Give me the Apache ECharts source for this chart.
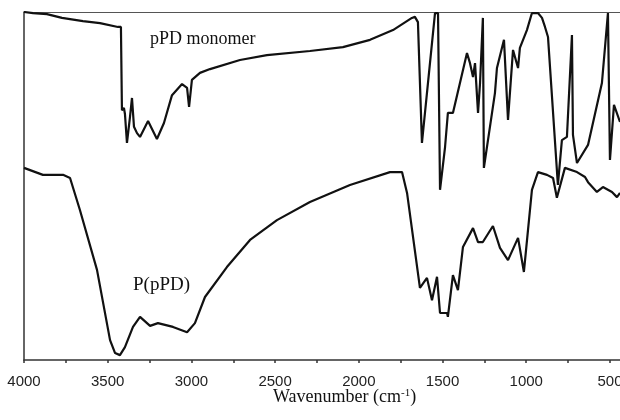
<!DOCTYPE html>
<html>
<head>
<meta charset="utf-8">
<script src="https://cdn.jsdelivr.net/npm/echarts@6/dist/echarts.min.js"></script>
<style>
html,body{margin:0;padding:0;background:#fff;overflow:hidden;}
#chart{width:620px;height:420px;}
</style>
</head>
<body>
<div id="chart"></div>
<script>
// Wavenumber (cm-1) and relative transmittance readings
const monomerWn = [4000,3946,3863,3773,3648,3546,3439,3421,3415,3403,3397,3385,3367,3355,3343,3325,3307,3259,3206,3164,3116,3056,3026,3014,2997,2949,2889,2710,2549,2292,2095,1933,1796,1683,1665,1647,1623,1545,1527,1515,1485,1468,1438,1354,1336,1318,1306,1288,1276,1259,1253,1187,1175,1133,1109,1079,1049,1038,996,966,930,906,888,870,811,787,757,727,721,697,631,548,512,500,476,440];
const monomerT  = [100.0,99.7,99.4,98.3,97.4,96.8,95.7,95.7,71.8,72.4,70.7,62.4,69.8,75.3,67.0,65.2,64.1,68.7,63.5,68.1,76.1,79.3,78.2,72.7,80.5,82.5,83.6,86.2,87.6,88.8,89.9,92.0,94.8,98.3,98.6,97.1,62.4,99.7,99.7,48.9,61.2,71.0,71.0,88.2,85.3,81.3,85.3,71.0,79.6,98.3,55.2,76.7,83.9,92.0,69.0,89.1,83.9,89.7,94.8,99.7,99.7,98.3,95.7,92.8,50.3,63.2,64.1,93.4,64.7,56.6,61.8,79.6,99.7,57.5,73.3,68.4];

const polymerWn = [4000,3887,3767,3725,3666,3564,3486,3456,3427,3397,3349,3307,3247,3200,3110,3026,2979,2919,2788,2650,2489,2292,2053,1814,1742,1712,1635,1593,1563,1533,1515,1473,1468,1438,1408,1378,1318,1288,1259,1199,1157,1109,1049,1014,966,930,876,840,817,769,697,649,631,578,542,488,458,440];
const polymerT  = [55.2,53.2,53.2,52.3,43.1,25.9,5.7,2.0,1.4,3.7,9.5,12.4,9.8,10.6,9.5,8.0,10.6,18.1,26.7,34.5,40.2,45.4,50.3,54.0,54.0,48.0,20.7,23.6,17.2,23.9,13.5,13.5,12.4,24.4,20.1,32.5,37.9,33.9,33.9,38.5,32.2,28.7,35.1,25.3,48.9,54.0,53.2,52.3,46.6,55.2,54.0,52.6,51.1,48.3,49.7,48.3,46.8,48.0];

const tickValues  = [500,750,1000,1250,1500,1750,2000,2250,2500,2750,3000,3250,3500,3750,4000];
const labelValues = [500,1000,1500,2000,2500,3000,3500,4000];

const monomerData = monomerWn.map((w, i) => [w, monomerT[i]]);
const polymerData = polymerWn.map((w, i) => [w, polymerT[i]]);

const chart = echarts.init(document.getElementById('chart'), null, {renderer: 'canvas'});
const lineStyle = {color: '#111', width: 2.2};
chart.setOption({
  animation: false,
  backgroundColor: '#fff',
  grid: {left: 24, right: 0, top: 12, bottom: 60, containLabel: false, outerBoundsMode: 'none'},
  xAxis: [{
    type: 'value', inverse: true, min: 440, max: 4000, position: 'bottom',
    axisLine: {show: true, onZero: false, lineStyle: {color: '#333', width: 1.5}},
    axisTick: {show: true, customValues: tickValues, length: 3, lineStyle: {color: '#333', width: 1.5}},
    axisLabel: {customValues: labelValues, margin: 14, color: '#222', fontFamily: 'Liberation Sans', fontSize: 15,
      formatter: (v) => String(v)},
    splitLine: {show: false}
  }, {
    type: 'value', inverse: true, min: 440, max: 4000, position: 'top',
    axisLine: {show: true, onZero: false, lineStyle: {color: '#555', width: 1}},
    axisTick: {show: false}, axisLabel: {show: false}, splitLine: {show: false}
  }],
  yAxis: {
    type: 'value', min: 0, max: 100,
    axisLine: {show: true, onZero: false, lineStyle: {color: '#333', width: 1.5}},
    axisTick: {show: false}, axisLabel: {show: false}, splitLine: {show: false}
  },
  series: [
    {name: 'pPD monomer', type: 'line', data: monomerData, showSymbol: false, symbol: 'none', lineStyle: lineStyle, xAxisIndex: 0},
    {name: 'P(pPD)', type: 'line', data: polymerData, showSymbol: false, symbol: 'none', lineStyle: lineStyle, xAxisIndex: 0}
  ],
  graphic: [
    {type: 'text', left: 150, top: 30, style: {text: 'pPD monomer', fill: '#111', font: '18px "Liberation Serif"'}},
    {type: 'text', left: 133, top: 276, style: {text: 'P(pPD)', fill: '#111', font: '19px "Liberation Serif"'}},
    {type: 'text', left: 273, top: 388, style: {
      text: '{a|Wavenumber (cm}{s|-1}{a|)}',
      rich: {
        a: {fontFamily: 'Liberation Serif', fontSize: 18, fill: '#111', color: '#111'},
        s: {fontFamily: 'Liberation Serif', fontSize: 11, fill: '#111', color: '#111', verticalAlign: 'top', padding: [0,0,8,0]}
      }
    }}
  ]
});
</script>
</body>
</html>
